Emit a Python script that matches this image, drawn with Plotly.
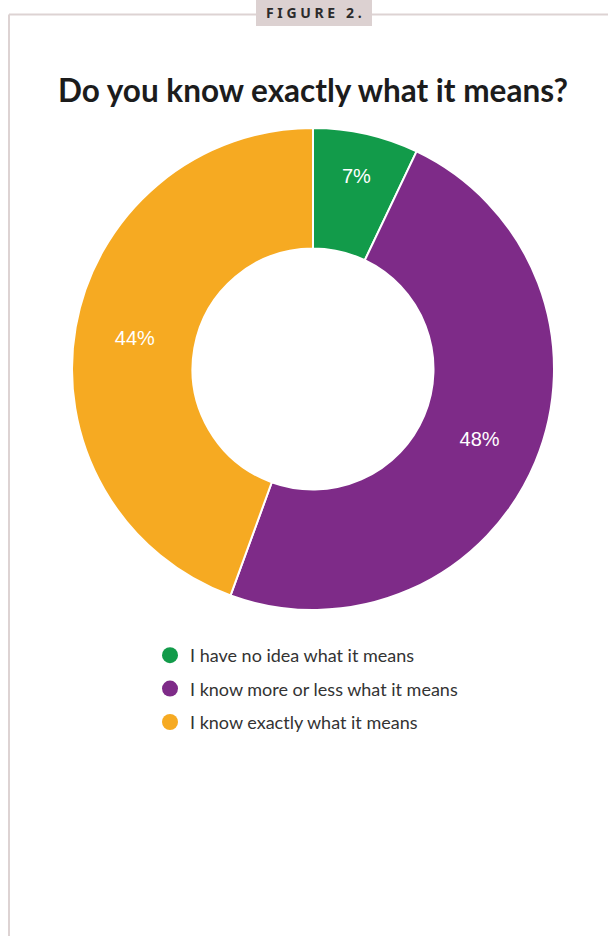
import plotly.graph_objects as go

# Survey answers and their shares (%)
answers = [
    "I have no idea what it means",
    "I know more or less what it means",
    "I know exactly what it means",
]
shares = [7, 48, 44]
colors = ["#129b4a", "#7e2b88", "#f6aa22"]

W, H = 608, 936

def px(x):
    return x / W

def py(y):
    return 1 - y / H

fig = go.Figure()

fig.add_trace(go.Pie(
    labels=answers,
    values=shares,
    sort=False,
    direction="clockwise",
    rotation=0,
    hole=0.5,
    marker=dict(colors=colors, line=dict(color="white", width=2)),
    texttemplate="%{value}%",
    textposition="inside",
    insidetextorientation="horizontal",
    textfont=dict(family="Liberation Sans, Arial", size=20, color="white"),
    showlegend=False,
    hoverinfo="label+value",
    domain=dict(x=[px(72), px(554)], y=[py(610), py(128)]),
))

# Legend entries drawn as round markers
for name, col in zip(answers, colors):
    fig.add_trace(go.Scatter(
        x=[None], y=[None], mode="markers", name=name,
        marker=dict(symbol="circle", size=16, color=col),
        legendgroup=name,
    ))

fig.update_xaxes(visible=False)
fig.update_yaxes(visible=False)

# Frame lines and figure badge
line_col = "#ddd3d3"
shapes = [
    dict(type="line", xref="paper", yref="paper",
         x0=px(9), x1=1, y0=py(14.5), y1=py(14.5),
         line=dict(color=line_col, width=2)),
    dict(type="line", xref="paper", yref="paper",
         x0=px(9), x1=px(9), y0=py(14.5), y1=0,
         line=dict(color=line_col, width=2)),
    dict(type="rect", xref="paper", yref="paper",
         x0=px(256), x1=px(372), y0=py(26), y1=1,
         fillcolor="#dcd1d1", line=dict(width=0)),
]

sp = "\u00a0"
badge = sp.join(list("FIGURE")) + sp * 3 + sp.join(list("2."))

annotations = [
    dict(text="<b>" + badge + "</b>", xref="paper", yref="paper",
         x=px(314), y=py(13), xanchor="center", yanchor="middle",
         showarrow=False,
         font=dict(family="Noto Sans", size=14, color="#2b2b2b")),
    dict(text="<b>Do you know exactly what it means?</b>",
         xref="paper", yref="paper",
         x=px(313), y=py(90), xanchor="center", yanchor="middle",
         showarrow=False,
         font=dict(family="Lato", size=31.5, color="#1c1c1c")),
]

fig.update_layout(
    width=W, height=H,
    margin=dict(l=0, r=0, t=0, b=0),
    paper_bgcolor="white",
    plot_bgcolor="white",
    shapes=shapes,
    annotations=annotations,
    legend=dict(
        x=px(150), y=py(637), xanchor="left", yanchor="top",
        font=dict(family="Lato", size=18, color="#333333"),
        tracegroupgap=7,
        itemsizing="trace",
        bgcolor="rgba(0,0,0,0)",
    ),
)

fig.write_html("out.html")
